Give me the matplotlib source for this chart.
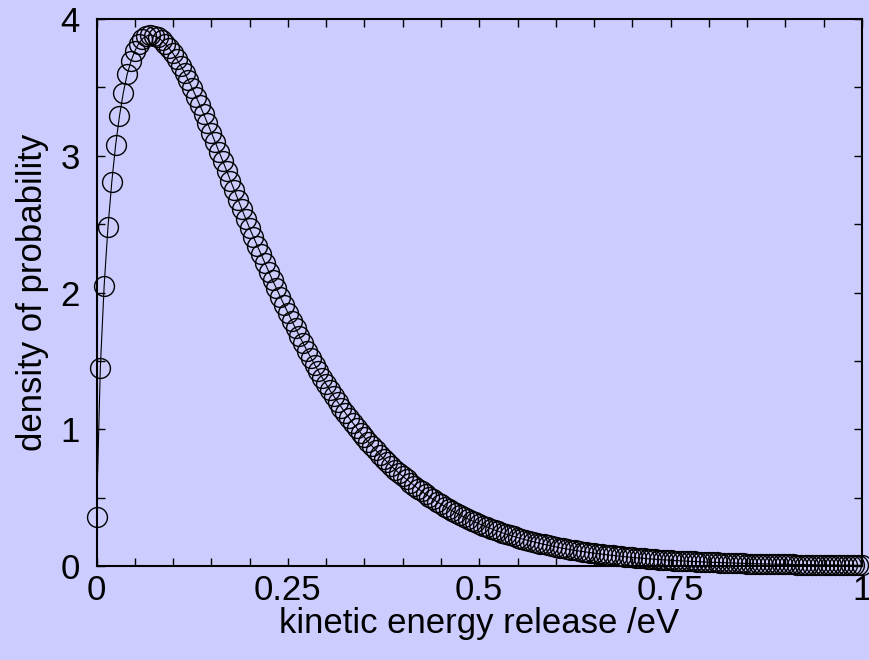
import matplotlib
matplotlib.use("Agg")
import matplotlib.pyplot as plt
from matplotlib.ticker import FixedLocator, FuncFormatter

# kinetic energy release (eV)
energy = [
    0.000, 0.005, 0.010, 0.015, 0.020, 0.025, 0.030, 0.035, 0.040, 0.045,
    0.050, 0.055, 0.060, 0.065, 0.070, 0.075, 0.080, 0.085, 0.090, 0.095,
    0.100, 0.105, 0.110, 0.115, 0.120, 0.125, 0.130, 0.135, 0.140, 0.145,
    0.150, 0.155, 0.160, 0.165, 0.170, 0.175, 0.180, 0.185, 0.190, 0.195,
    0.200, 0.205, 0.210, 0.215, 0.220, 0.225, 0.230, 0.235, 0.240, 0.245,
    0.250, 0.255, 0.260, 0.265, 0.270, 0.275, 0.280, 0.285, 0.290, 0.295,
    0.300, 0.305, 0.310, 0.315, 0.320, 0.325, 0.330, 0.335, 0.340, 0.345,
    0.350, 0.355, 0.360, 0.365, 0.370, 0.375, 0.380, 0.385, 0.390, 0.395,
    0.400, 0.405, 0.410, 0.415, 0.420, 0.425, 0.430, 0.435, 0.440, 0.445,
    0.450, 0.455, 0.460, 0.465, 0.470, 0.475, 0.480, 0.485, 0.490, 0.495,
    0.500, 0.505, 0.510, 0.515, 0.520, 0.525, 0.530, 0.535, 0.540, 0.545,
    0.550, 0.555, 0.560, 0.565, 0.570, 0.575, 0.580, 0.585, 0.590, 0.595,
    0.600, 0.605, 0.610, 0.615, 0.620, 0.625, 0.630, 0.635, 0.640, 0.645,
    0.650, 0.655, 0.660, 0.665, 0.670, 0.675, 0.680, 0.685, 0.690, 0.695,
    0.700, 0.705, 0.710, 0.715, 0.720, 0.725, 0.730, 0.735, 0.740, 0.745,
    0.750, 0.755, 0.760, 0.765, 0.770, 0.775, 0.780, 0.785, 0.790, 0.795,
    0.800, 0.805, 0.810, 0.815, 0.820, 0.825, 0.830, 0.835, 0.840, 0.845,
    0.850, 0.855, 0.860, 0.865, 0.870, 0.875, 0.880, 0.885, 0.890, 0.895,
    0.900, 0.905, 0.910, 0.915, 0.920, 0.925, 0.930, 0.935, 0.940, 0.945,
    0.950, 0.955, 0.960, 0.965, 0.970, 0.975, 0.980, 0.985, 0.990, 0.995,
    1.000,
]

# density of probability
density = [
    0.36, 1.45, 2.05, 2.48, 2.81, 3.08, 3.29, 3.46, 3.595, 3.69,
    3.765, 3.82, 3.855, 3.875, 3.882, 3.878, 3.865, 3.845, 3.818, 3.785,
    3.748, 3.705, 3.658, 3.607, 3.552, 3.494, 3.433, 3.370, 3.305, 3.238,
    3.170, 3.101, 3.031, 2.961, 2.890, 2.819, 2.748, 2.677, 2.607, 2.538,
    2.470, 2.405, 2.342, 2.280, 2.215, 2.152, 2.090, 2.030, 1.970, 1.910,
    1.852, 1.795, 1.738, 1.682, 1.628, 1.575, 1.523, 1.472, 1.423, 1.375,
    1.329, 1.284, 1.241, 1.199, 1.159, 1.120, 1.082, 1.045, 1.009, 0.974,
    0.940, 0.907, 0.876, 0.845, 0.815, 0.786, 0.758, 0.731, 0.705, 0.680,
    0.656, 0.633, 0.610, 0.588, 0.566, 0.545, 0.525, 0.506, 0.487, 0.469,
    0.452, 0.435, 0.419, 0.403, 0.388, 0.373, 0.359, 0.345, 0.332, 0.320,
    0.308, 0.296, 0.285, 0.274, 0.263, 0.253, 0.243, 0.234, 0.225, 0.216,
    0.208, 0.200, 0.192, 0.185, 0.178, 0.171, 0.164, 0.158, 0.152, 0.146,
    0.140, 0.134, 0.129, 0.124, 0.119, 0.114, 0.110, 0.106, 0.102, 0.098,
    0.094, 0.090, 0.087, 0.083, 0.080, 0.077, 0.074, 0.071, 0.068, 0.065,
    0.063, 0.060, 0.058, 0.056, 0.053, 0.051, 0.049, 0.047, 0.045, 0.044,
    0.042, 0.040, 0.039, 0.037, 0.036, 0.034, 0.033, 0.032, 0.030, 0.029,
    0.028, 0.027, 0.026, 0.025, 0.024, 0.023, 0.022, 0.021, 0.020, 0.019,
    0.018, 0.0175, 0.017, 0.016, 0.0155, 0.015, 0.014, 0.0135, 0.013, 0.0125,
    0.012, 0.0115, 0.011, 0.0105, 0.010, 0.0096, 0.0092, 0.0088, 0.0085, 0.0081,
    0.0078, 0.0075, 0.0072, 0.0069, 0.0066, 0.0063, 0.0061, 0.0058, 0.0056, 0.0054,
    0.0052,
]

x_ticklabels = ["0", "0.25", "0.5", "0.75", "1"]
x_labeled = [0.0, 0.25, 0.5, 0.75, 1.0]
y_ticklabels = ["0", "1", "2", "3", "4"]
y_labeled = [0, 1, 2, 3, 4]

bg = "#ccccff"
plt.rcParams["font.family"] = ["Liberation Sans", "DejaVu Sans"]

fig = plt.figure(figsize=(8.69, 6.60), dpi=100, facecolor=bg)
ax = fig.add_axes([96.5 / 869, 1 - 566 / 660, (862 - 96.5) / 869, (566 - 19) / 660])
ax.set_facecolor(bg)

ax.plot(energy, density, color="black", linewidth=0.8,
        marker="o", markersize=14.3, markerfacecolor="none",
        markeredgecolor="black", markeredgewidth=1.0, clip_on=False)

ax.set_xlim(0, 1)
ax.set_ylim(0, 4)

xt = [i * 0.05 for i in range(21)]
yt = [i * 0.5 for i in range(9)]
ax.xaxis.set_major_locator(FixedLocator(xt))
ax.yaxis.set_major_locator(FixedLocator(yt))


def xfmt(v, pos):
    for lv, lab in zip(x_labeled, x_ticklabels):
        if abs(v - lv) < 1e-6:
            return lab
    return ""


def yfmt(v, pos):
    for lv, lab in zip(y_labeled, y_ticklabels):
        if abs(v - lv) < 1e-6:
            return lab
    return ""


ax.xaxis.set_major_formatter(FuncFormatter(xfmt))
ax.yaxis.set_major_formatter(FuncFormatter(yfmt))

ax.tick_params(axis="both", which="both", direction="in", top=True, right=True,
               length=6, width=1.0, labelsize=25, colors="black")
ax.tick_params(axis="x", pad=6)
ax.tick_params(axis="y", pad=12)

for s in ax.spines.values():
    s.set_linewidth(1.5)
    s.set_color("black")

ax.set_xlabel("kinetic energy release /eV", fontsize=25, labelpad=0)
ax.set_ylabel("density of probability", fontsize=25, labelpad=8)

fig.savefig("out.png", dpi=100, facecolor=bg)
